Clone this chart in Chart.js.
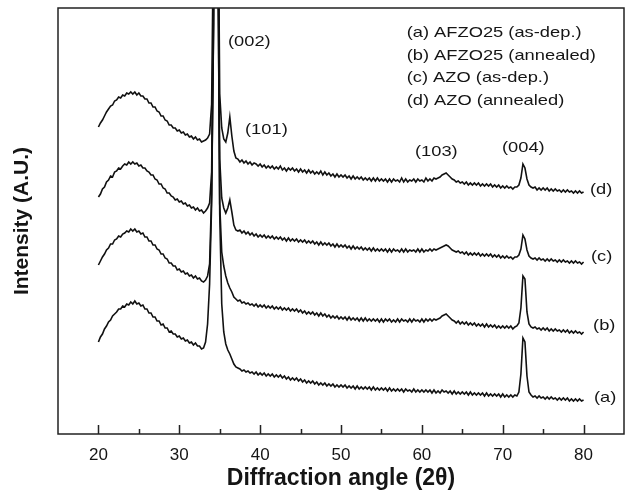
<!DOCTYPE html>
<html>
<head>
<meta charset="utf-8">
<script src="https://cdn.jsdelivr.net/npm/chart.js@4.4.0/dist/chart.umd.min.js"></script>
<style>
html, body { margin: 0; padding: 0; background: #ffffff; }
#wrap { width: 627px; height: 498px; }
</style>
</head>
<body>
<div id="wrap"><canvas id="xrd" width="627" height="498"></canvas></div>
<script>
// ---- scan grid (2theta, degrees): 20 to 80 in 0.25 deg steps ----
const angleStart = 20, angleStep = 0.25, angleCount = 241;
const angles = Array.from({ length: angleCount }, (_, i) => angleStart + angleStep * i);

// ---- tick labels ----
const xTickValues = [20, 30, 40, 50, 60, 70, 80];
const xMinorTicks = [25, 35, 45, 55, 65, 75];

// ---- series (offset intensity, arbitrary units), one row per degree ----
const curveA = [
  92, 97, 100, 105,   // 20
  108, 112, 114, 118, // 21
  120, 122, 125, 125, // 22
  128, 127, 130, 129, // 23
  132, 130, 133, 130, // 24
  131, 128, 129, 125, // 25
  125, 121, 121, 117, // 26
  117, 113, 113, 109, // 27
  110, 106, 106, 102, // 28
  103, 100, 100, 97,  // 29
  98, 95, 96, 93,     // 30
  94, 91, 92, 89,     // 31
  91, 88, 88, 85,     // 32
  86, 92, 110, 150,   // 33
  230, 420, 1400, 520,// 34
  220, 130, 102, 90,  // 35
  84, 80, 75, 70,     // 36
  67, 66, 65, 63,     // 37
  64, 62, 63, 61,     // 38
  62, 60, 62, 59,     // 39
  61, 59, 61, 58,     // 40
  60, 58, 60, 57,     // 41
  59, 57, 59, 56,     // 42
  58, 55, 57, 54,     // 43
  56, 54, 56, 53,     // 44
  55, 52, 54, 51,     // 45
  53, 51, 53, 50,     // 46
  52, 49, 51, 49,     // 47
  51, 48, 50, 48,     // 48
  50, 47, 49, 47,     // 49
  49, 47, 49, 46,     // 50
  48, 46, 48, 45,     // 51
  48, 45, 47, 45,     // 52
  47, 45, 47, 44,     // 53
  47, 44, 46, 44,     // 54
  46, 44, 46, 43,     // 55
  46, 43, 45, 43,     // 56
  45, 43, 45, 42,     // 57
  45, 43, 44, 42,     // 58
  45, 42, 44, 42,     // 59
  44, 42, 44, 42,     // 60
  44, 41, 44, 41,     // 61
  43, 41, 44, 42,     // 62
  43, 41, 43, 40,     // 63
  43, 40, 42, 40,     // 64
  42, 40, 42, 39,     // 65
  42, 39, 41, 39,     // 66
  41, 39, 41, 38,     // 67
  41, 38, 40, 38,     // 68
  40, 38, 40, 37,     // 69
  40, 37, 39, 37,     // 70
  39, 37, 39, 38,     // 71
  42, 60, 96, 92,     // 72
  58, 42, 39, 37,     // 73
  38, 36, 38, 36,     // 74
  37, 35, 37, 35,     // 75
  37, 35, 36, 34,     // 76
  36, 34, 36, 34,     // 77
  36, 33, 35, 33,     // 78
  35, 33, 35, 33,     // 79
  34                  // 80
];

const curveB = [
  169, 173, 177, 180, // 20
  184, 186, 190, 190, // 21
  194, 195, 198, 197, // 22
  200, 201, 203, 202, // 23
  205, 203, 205, 202, // 24
  203, 200, 201, 197, // 25
  197, 193, 193, 189, // 26
  189, 185, 184, 180, // 27
  180, 176, 175, 171, // 28
  171, 168, 168, 164, // 29
  165, 162, 163, 160, // 30
  161, 158, 159, 156, // 31
  158, 155, 156, 153, // 32
  152, 154, 158, 170, // 33
  240, 410, 1400, 520,// 34
  230, 182, 168, 158, // 35
  151, 146, 142, 137, // 36
  135, 133, 134, 131, // 37
  132, 130, 131, 129, // 38
  130, 128, 130, 127, // 39
  129, 127, 129, 126, // 40
  128, 126, 128, 125, // 41
  127, 125, 127, 124, // 42
  126, 124, 126, 123, // 43
  125, 123, 125, 122, // 44
  124, 121, 123, 120, // 45
  122, 120, 122, 119, // 46
  121, 118, 121, 118, // 47
  120, 117, 119, 116, // 48
  118, 116, 118, 115, // 49
  117, 115, 117, 114, // 50
  117, 114, 116, 114, // 51
  116, 113, 116, 113, // 52
  116, 113, 115, 113, // 53
  115, 113, 115, 112, // 54
  115, 112, 115, 113, // 55
  115, 112, 114, 112, // 56
  115, 112, 115, 113, // 57
  114, 112, 115, 112, // 58
  115, 113, 114, 112, // 59
  115, 112, 115, 113, // 60
  115, 113, 115, 114, // 61
  115, 116, 118, 119, // 62
  120, 118, 116, 114, // 63
  113, 111, 113, 110, // 64
  112, 110, 112, 109, // 65
  111, 109, 111, 108, // 66
  110, 108, 110, 107, // 67
  110, 107, 109, 107, // 68
  109, 106, 108, 106, // 69
  108, 106, 108, 106, // 70
  108, 105, 107, 108, // 71
  111, 126, 158, 155, // 72
  122, 110, 107, 106, // 73
  107, 105, 106, 104, // 74
  106, 104, 106, 103, // 75
  105, 103, 105, 103, // 76
  104, 102, 104, 102, // 77
  104, 101, 103, 101, // 78
  103, 101, 102, 100, // 79
  102                 // 80
];

const curveC = [
  237, 240, 245, 247, // 20
  252, 254, 258, 257, // 21
  262, 263, 266, 265, // 22
  268, 270, 269, 272, // 23
  270, 272, 270, 271, // 24
  268, 269, 266, 266, // 25
  263, 262, 259, 259, // 26
  255, 254, 250, 250, // 27
  246, 245, 241, 241, // 28
  238, 237, 234, 235, // 29
  232, 233, 230, 231, // 30
  228, 229, 226, 227, // 31
  224, 226, 223, 224, // 32
  221, 223, 226, 231, // 33
  262, 460, 1400, 560,// 34
  275, 236, 226, 221, // 35
  226, 234, 222, 209, // 36
  204, 203, 204, 201, // 37
  203, 200, 202, 199, // 38
  201, 198, 200, 197, // 39
  199, 197, 199, 196, // 40
  198, 196, 198, 195, // 41
  197, 195, 197, 194, // 42
  196, 193, 196, 193, // 43
  195, 193, 195, 192, // 44
  194, 192, 194, 191, // 45
  193, 191, 193, 190, // 46
  192, 189, 192, 189, // 47
  191, 189, 191, 188, // 48
  190, 187, 190, 187, // 49
  189, 187, 189, 186, // 50
  188, 185, 188, 185, // 51
  187, 185, 187, 184, // 52
  186, 184, 186, 183, // 53
  186, 183, 185, 183, // 54
  185, 183, 185, 182, // 55
  185, 182, 185, 183, // 56
  184, 182, 185, 182, // 57
  185, 182, 184, 183, // 58
  184, 182, 185, 182, // 59
  185, 182, 184, 183, // 60
  185, 183, 185, 184, // 61
  185, 186, 187, 188, // 62
  189, 188, 186, 184, // 63
  183, 182, 183, 181, // 64
  182, 180, 182, 179, // 65
  181, 179, 181, 179, // 66
  181, 178, 180, 178, // 67
  180, 178, 180, 177, // 68
  179, 177, 179, 176, // 69
  178, 176, 178, 176, // 70
  177, 175, 177, 177, // 71
  179, 185, 199, 195, // 72
  184, 178, 176, 175, // 73
  176, 174, 176, 174, // 74
  175, 173, 175, 173, // 75
  175, 173, 174, 172, // 76
  174, 172, 174, 172, // 77
  173, 171, 173, 171, // 78
  173, 171, 172, 170, // 79
  172                 // 80
];

const curveD = [
  307, 311, 314, 318, // 20
  322, 325, 328, 329, // 21
  333, 334, 337, 336, // 22
  339, 338, 341, 340, // 23
  342, 340, 342, 339, // 24
  341, 338, 338, 335, // 25
  335, 331, 331, 327, // 26
  327, 323, 322, 318, // 27
  318, 314, 313, 309, // 28
  309, 306, 306, 303, // 29
  304, 301, 302, 299, // 30
  300, 297, 298, 295, // 31
  297, 294, 295, 292, // 32
  293, 294, 296, 300, // 33
  330, 520, 1400, 600,// 34
  340, 306, 295, 292, // 35
  301, 317, 298, 283, // 36
  276, 275, 272, 274, // 37
  271, 273, 270, 272, // 38
  269, 271, 270, 268, // 39
  270, 267, 269, 266, // 40
  268, 266, 268, 265, // 41
  267, 265, 268, 264, // 42
  266, 263, 266, 264, // 43
  266, 263, 265, 262, // 44
  265, 262, 264, 261, // 45
  264, 261, 263, 260, // 46
  262, 260, 263, 259, // 47
  262, 259, 261, 258, // 48
  260, 257, 260, 257, // 49
  259, 257, 259, 256, // 50
  258, 255, 258, 255, // 51
  257, 255, 257, 254, // 52
  256, 254, 256, 253, // 53
  256, 253, 256, 253, // 54
  255, 253, 255, 252, // 55
  255, 252, 255, 253, // 56
  254, 252, 256, 252, // 57
  255, 252, 254, 253, // 58
  255, 252, 255, 253, // 59
  254, 252, 256, 253, // 60
  255, 253, 256, 255, // 61
  256, 257, 259, 260, // 62
  261, 259, 257, 255, // 63
  254, 252, 253, 251, // 64
  252, 250, 252, 249, // 65
  251, 249, 251, 249, // 66
  251, 248, 250, 248, // 67
  250, 248, 250, 247, // 68
  249, 247, 249, 246, // 69
  248, 246, 248, 246, // 70
  247, 245, 247, 247, // 71
  249, 256, 270, 266, // 72
  255, 249, 247, 246, // 73
  247, 244, 246, 244, // 74
  246, 244, 246, 243, // 75
  245, 243, 245, 243, // 76
  244, 242, 244, 242, // 77
  244, 242, 243, 241, // 78
  243, 241, 243, 241, // 79
  242                 // 80
];

const seriesNames = ['(a) AFZO25 (as-dep.)', '(b) AFZO25 (annealed)', '(c) AZO (as-dep.)', '(d) AZO (annealed)'];
const curveTags = ['(a)', '(b)', '(c)', '(d)'];
const peakLabels = ['(002)', '(101)', '(103)', '(004)'];

const allCurves = [curveA, curveB, curveC, curveD];
const datasets = allCurves.map((vals, k) => ({
  label: seriesNames[k],
  data: angles.map((a, i) => ({ x: a, y: vals[i] })),
  borderColor: '#111111',
  borderWidth: 1.6,
  pointRadius: 0,
  tension: 0,
  fill: false
}));

const TEXT = '#151515';
const FONT = '"Liberation Sans", Arial, Helvetica, sans-serif';
const annotate = {
  id: 'annotate',
  afterDatasetsDraw(chart) {
    const { ctx, chartArea: a, scales: { x, y } } = chart;
    ctx.save();
    ctx.strokeStyle = '#222';
    ctx.lineWidth = 1.5;
    ctx.strokeRect(a.left, a.top, a.right - a.left, a.bottom - a.top);
    ctx.beginPath();
    xTickValues.forEach(v => {
      const px = Math.round(x.getPixelForValue(v)) + 0.5;
      ctx.moveTo(px, a.bottom); ctx.lineTo(px, a.bottom - 9);
    });
    xMinorTicks.forEach(v => {
      const px = Math.round(x.getPixelForValue(v)) + 0.5;
      ctx.moveTo(px, a.bottom); ctx.lineTo(px, a.bottom - 5);
    });
    ctx.stroke();

    ctx.fillStyle = TEXT;
    ctx.font = '15px ' + FONT;
    ctx.textBaseline = 'middle';
    ctx.textAlign = 'left';
    const put = (t, ax, iy) => {
      ctx.save();
      ctx.translate(x.getPixelForValue(ax), y.getPixelForValue(iy));
      ctx.scale(1.22, 1);
      ctx.fillText(t, 0, 0);
      ctx.restore();
    };
    // peak labels (angle, height)
    const peakPos = [[36.02, 392.5], [38.13, 304], [59.15, 282.5], [69.91, 286.5]];
    peakLabels.forEach((t, i) => put(t, peakPos[i][0], peakPos[i][1]));
    // legend lines
    const legendY = [401.5, 378.5, 356.5, 333.5];
    seriesNames.forEach((t, i) => put(t, 58.12, legendY[i]));
    // curve tags at right end
    const tagPos = [[81.29, 36.5], [81.17, 108.5], [80.92, 177], [80.79, 244.5]];
    curveTags.forEach((t, i) => put(t, tagPos[i][0], tagPos[i][1]));
    ctx.restore();
  }
};

new Chart(document.getElementById('xrd'), {
  type: 'line',
  data: { datasets },
  options: {
    responsive: false,
    animation: false,
    devicePixelRatio: 1,
    layout: { padding: { top: 8, right: 3, left: 0, bottom: 0 } },
    plugins: { legend: { display: false }, tooltip: { enabled: false } },
    scales: {
      x: {
        type: 'linear',
        min: 15, max: 85,
        afterBuildTicks: s => { s.ticks = xTickValues.map(v => ({ value: v })); },
        afterFit: s => { s.height = 64; },
        grid: { display: false, drawTicks: false },
        border: { display: false },
        ticks: {
          color: TEXT, padding: 11, maxRotation: 0, autoSkip: false,
          font: { family: FONT, size: 17 }
        },
        title: {
          display: true, text: 'Diffraction angle (2θ)', color: TEXT,
          font: { family: FONT, size: 23, weight: 'bold' },
          padding: { top: 0, bottom: 6 }
        }
      },
      y: {
        type: 'linear',
        min: 0, max: 426,
        afterFit: s => { s.width = 58; },
        grid: { display: false, drawTicks: false },
        border: { display: false },
        ticks: { display: false },
        title: {
          display: true, text: 'Intensity (A.U.)', color: TEXT,
          font: { family: FONT, size: 21, weight: 'bold' },
          padding: { top: 10, bottom: 0 }
        }
      }
    }
  },
  plugins: [annotate]
});
</script>
</body>
</html>
